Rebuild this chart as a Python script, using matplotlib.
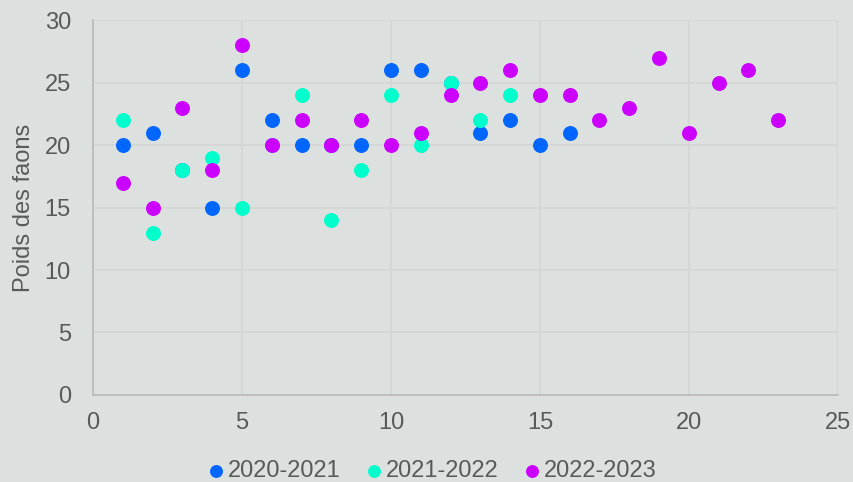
import matplotlib.pyplot as plt

plt.rcParams['font.family'] = ['Liberation Sans', 'DejaVu Sans']

# Données
x_2020 = [1, 2, 3, 4, 5, 6, 7, 8, 9, 10, 11, 12, 13, 14, 15, 16]
y_2020 = [20, 21, 18, 15, 26, 22, 20, 20, 20, 26, 26, 25, 21, 22, 20, 21]

x_2021 = [1, 2, 3, 4, 5, 6, 7, 8, 9, 10, 11, 12, 13, 14]
y_2021 = [22, 13, 18, 19, 15, 20, 24, 14, 18, 24, 20, 25, 22, 24]

x_2022 = list(range(1, 24))
y_2022 = [17, 15, 23, 18, 28, 20, 22, 20, 22, 20, 21, 24, 25, 26, 24, 24,
          22, 23, 27, 21, 25, 26, 22]

labels = ["2020-2021", "2021-2022", "2022-2023"]
colors = ["#0066ff", "#00ffcc", "#cc00ff"]
bg = "#dce1df"
txt = "#595959"

fig = plt.figure(figsize=(8.54, 4.82), dpi=100, facecolor=bg)
ax = fig.add_axes([0.109, 0.1805, 0.872, 0.778], facecolor=bg)

ax.scatter(x_2020, y_2020, s=95, color=colors[0], label=labels[0], zorder=3)
ax.scatter(x_2021, y_2021, s=95, color=colors[1], label=labels[1], zorder=3)
ax.scatter(x_2022, y_2022, s=95, color=colors[2], label=labels[2], zorder=3)

ax.set_xlim(0, 25)
ax.set_ylim(0, 30)
ax.set_xticks(range(0, 26, 5))
ax.set_yticks(range(0, 31, 5))
ax.grid(color="#d3d6d5", linewidth=1.2, zorder=0)
ax.set_axisbelow(True)

for s in ["top", "right"]:
    ax.spines[s].set_visible(False)
ax.spines["left"].set_color("#bcbcbc")
ax.spines["bottom"].set_color("#bcbcbc")
ax.spines["left"].set_linewidth(1.3)
ax.spines["bottom"].set_linewidth(1.3)
ax.tick_params(length=0, labelsize=17, labelcolor=txt, pad=12)
ax.tick_params(axis="y", pad=16)

ax.set_ylabel("Poids des faons", fontsize=17, color=txt, labelpad=7)

ax.legend(loc="lower center", bbox_to_anchor=(0.445, -0.29), ncol=3,
          frameon=False, fontsize=17, labelcolor=txt, markerscale=0.85,
          handletextpad=-0.5, columnspacing=0.4)

fig.savefig("out.png", dpi=100, facecolor=bg)
